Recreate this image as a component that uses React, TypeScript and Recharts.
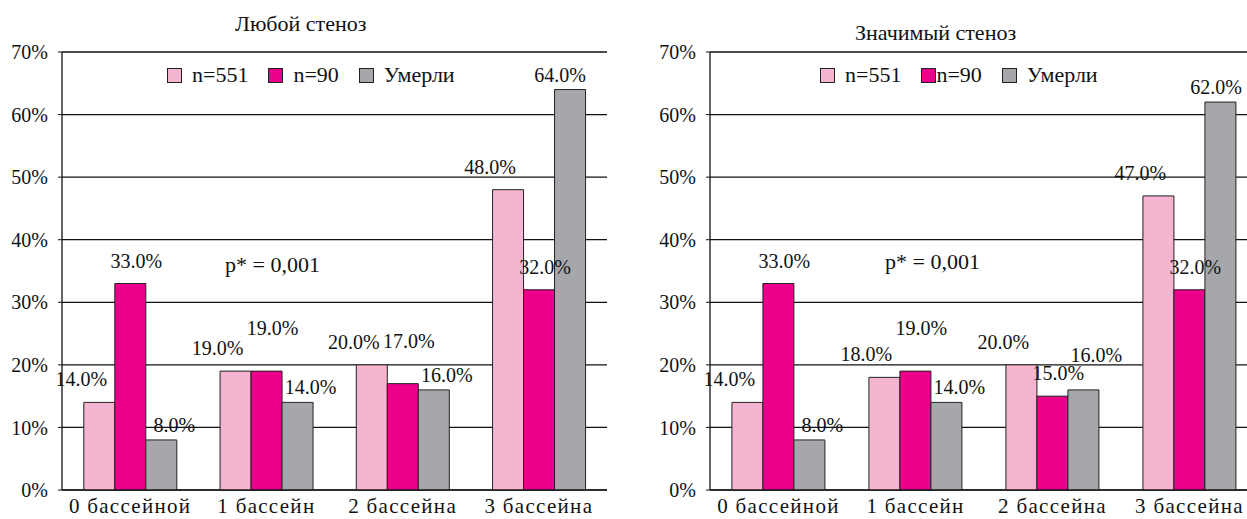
import React from "react";
import { Bar, BarChart, CartesianGrid, LabelList, XAxis, YAxis } from "recharts";

const categories = ["0 бассейной", "1 бассейн", "2 бассейна", "3 бассейна"];
const seriesNames = ["n=551", "n=90", "Умерли"];
const seriesColors = ["#F5B4D0", "#EC008B", "#A6A7AB"];
const seriesKeys = ["s0", "s1", "s2"];
const yTicks = [0, 10, 20, 30, 40, 50, 60, 70];

// Любой стеноз
const anyN551 = [14, 19, 20, 48];
const anyN90 = [33, 19, 17, 32];
const anyDied = [8, 14, 16, 64];

// Значимый стеноз
const sigN551 = [14, 18, 20, 47];
const sigN90 = [33, 19, 15, 32];
const sigDied = [8, 14, 16, 62];

const pValue = "p* = 0,001";

const FONT = '"Liberation Serif", "Times New Roman", serif';
// per-series label nudges
const labelDx = [-18, 6, 13];
const labelLift = [16, 16, 8];

function buildRows(a: number[], b: number[], c: number[]) {
  return categories.map((name, i) => ({ name, s0: a[i], s1: b[i], s2: c[i] }));
}

// lift a label when its neighbour in the group has almost the same height
function extraLift(rows: any[], index: number, series: number) {
  const row = rows[index];
  if (!row) return 0;
  const v = row[seriesKeys[series]];
  for (const n of [series - 1, series + 1]) {
    if (n < 0 || n > 2) continue;
    const w = row[seriesKeys[n]];
    if (Math.abs(v - w) < 3 && (v > w || (v === w && series > n))) return 20;
  }
  return 0;
}

function makeLabel(series: number, rows: any[], maxX: number) {
  return (props: any) => {
    const { x, y, width, value, index } = props;
    let cx = x + width / 2 + labelDx[series];
    if (cx + 26 > maxX) cx = maxX - 26;
    const lift = labelLift[series] + extraLift(rows, index, series);
    return (
      <text x={cx} y={y - lift} textAnchor="middle" fontFamily={FONT} fontSize={20} fill="#111">
        {`${Number(value).toFixed(1)}%`}
      </text>
    );
  };
}

type PanelProps = {
  title: string;
  rows: any[];
  left: number;
  width: number;
  labelLimit: number;
  titleX: number;
  titleY: number;
  legendX: number;
  pX: number;
  pY: number;
  tightSecond?: boolean;
};

function Panel({ title, rows, left, width, labelLimit, titleX, titleY, legendX, pX, pY, tightSecond }: PanelProps) {
  return (
    <>
      <div style={{ position: "absolute", left: titleX, top: titleY, fontFamily: FONT, fontSize: 22, color: "#111", whiteSpace: "nowrap" }}>{title}</div>
      <div style={{ position: "absolute", left: left }}>
        <BarChart width={width} height={519} data={rows} margin={{ top: 52, right: 0, bottom: 0, left: 0 }} barCategoryGap="16%" barGap={0}>
          <CartesianGrid vertical={false} stroke="#111" strokeWidth={1.3} />
          <XAxis dataKey="name" height={29} tickLine={false} axisLine={{ stroke: "#111" }} tickMargin={2} tick={{ fontFamily: FONT, fontSize: 21, fill: "#111", letterSpacing: 1.3 }} interval={0} />
          <YAxis width={62} domain={[0, 70]} ticks={yTicks} tickFormatter={(v: number) => `${v}%`} axisLine={{ stroke: "#111", strokeWidth: 1.3 }} tickLine={{ stroke: "#111" }} tickSize={4} tickMargin={10} tick={{ fontFamily: FONT, fontSize: 20, fill: "#111" }} interval={0} />
          {seriesKeys.map((key, i) => (
            <Bar key={key} dataKey={key} name={seriesNames[i]} fill={seriesColors[i]} stroke="#222" strokeWidth={1} isAnimationActive={false}>
              <LabelList dataKey={key} content={makeLabel(i, rows, labelLimit)} />
            </Bar>
          ))}
        </BarChart>
      </div>
      <div style={{ position: "absolute", left: legendX, top: 62, display: "flex", alignItems: "center", fontFamily: FONT, fontSize: 22, color: "#111", whiteSpace: "nowrap" }}>
        {seriesNames.map((n, i) => (
          <div key={n} style={{ display: "flex", alignItems: "center", marginRight: 20 }}>
            <span style={{ display: "inline-block", width: 13, height: 13, background: seriesColors[i], border: "1px solid #222", marginRight: tightSecond && i === 1 ? 0 : 10 }} />
            <span>{n}</span>
          </div>
        ))}
      </div>
      <div style={{ position: "absolute", left: pX, top: pY, fontFamily: FONT, fontSize: 22, color: "#111", whiteSpace: "nowrap" }}>{pValue}</div>
    </>
  );
}

export default function App() {
  return (
    <div style={{ position: "absolute", left: 0, top: 0, width: 1247, height: 519, overflow: "hidden", background: "#fff" }}>
      <Panel title="Любой стеноз" rows={buildRows(anyN551, anyN90, anyDied)} left={0} width={607} labelLimit={586} titleX={235} titleY={11} legendX={167} pX={225} pY={252} />
      <Panel title="Значимый стеноз" rows={buildRows(sigN551, sigN90, sigDied)} left={648} width={610} labelLimit={594} titleX={855} titleY={20} legendX={820} pX={885} pY={249} tightSecond />
    </div>
  );
}
